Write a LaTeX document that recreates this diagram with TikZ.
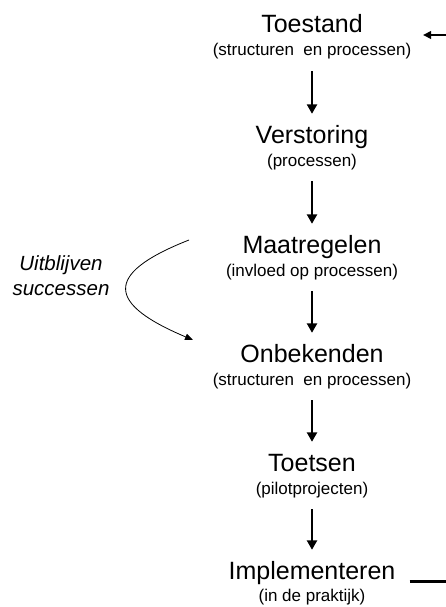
\documentclass[tikz,border=0pt]{standalone}
\usepackage{fontspec}
\setmainfont{Liberation Sans}
\usetikzlibrary{arrows.meta}
\begin{document}
\begin{tikzpicture}[x=1pt,y=1pt,
  title/.style={anchor=base,inner sep=0pt,text height=18pt,text depth=0pt,font=\fontsize{25}{30}\selectfont},
  sub/.style={anchor=base,inner sep=0pt,text height=12.5pt,text depth=4pt,font=\fontsize{17}{20}\selectfont},
  note/.style={anchor=base,inner sep=0pt,font=\fontsize{20.5}{25}\selectfont\itshape},
  flow/.style={line width=2.9pt,-{Triangle[width=10pt,length=9.5pt]},shorten <=11pt,shorten >=11pt},
  loop/.style={line width=0.8pt,-{Triangle[width=6.5pt,length=8pt]}},
  feed/.style={line width=2.5pt}
]
\useasboundingbox (0,0) rectangle (446,-607);

\node[title] (t1) at (312,-33) {Toestand};
\node[sub]   (s1) at (312,-56) {(structuren~~en processen)};
\node[title] (t2) at (312,-143) {Verstoring};
\node[sub]   (s2) at (312,-166) {(processen)};
\node[title] (t3) at (312,-253) {Maatregelen};
\node[sub]   (s3) at (312,-276) {(invloed op processen)};
\node[title] (t4) at (312,-362) {Onbekenden};
\node[sub]   (s4) at (312,-385) {(structuren~~en processen)};
\node[title] (t5) at (312,-471) {Toetsen};
\node[sub]   (s5) at (312,-494) {(pilotprojecten)};
\node[title] (t6) at (312,-579) {Implementeren};
\node[sub]   (s6) at (312,-601) {(in de praktijk)};

\draw[flow] (s1.south) -- (t2.north);
\draw[flow] (s2.south) -- (t3.north);
\draw[flow] (s3.south) -- (t4.north);
\draw[flow] (s4.south) -- (t5.north);
\draw[flow] (s5.south) -- (t6.north);

\node[note] (n1) at (61,-270) {Uitblijven};
\node[note] (n2) at (61,-295) {successen};

\coordinate (cs) at (189,-240);
\coordinate (ce) at (193,-340);
\draw[loop] (cs) .. controls (100,-275) and (110,-305) .. (ce);

\coordinate (fin) at (447,-35);
\coordinate (ftip) at (423,-35);
\draw[feed,-{Triangle[width=7.5pt,length=8pt]}] (fin) -- (ftip);

\coordinate (fout) at (447,-581.5);
\draw[feed,shorten <=14pt] (t6.east |- fout) -- (fout);
\end{tikzpicture}
\end{document}
